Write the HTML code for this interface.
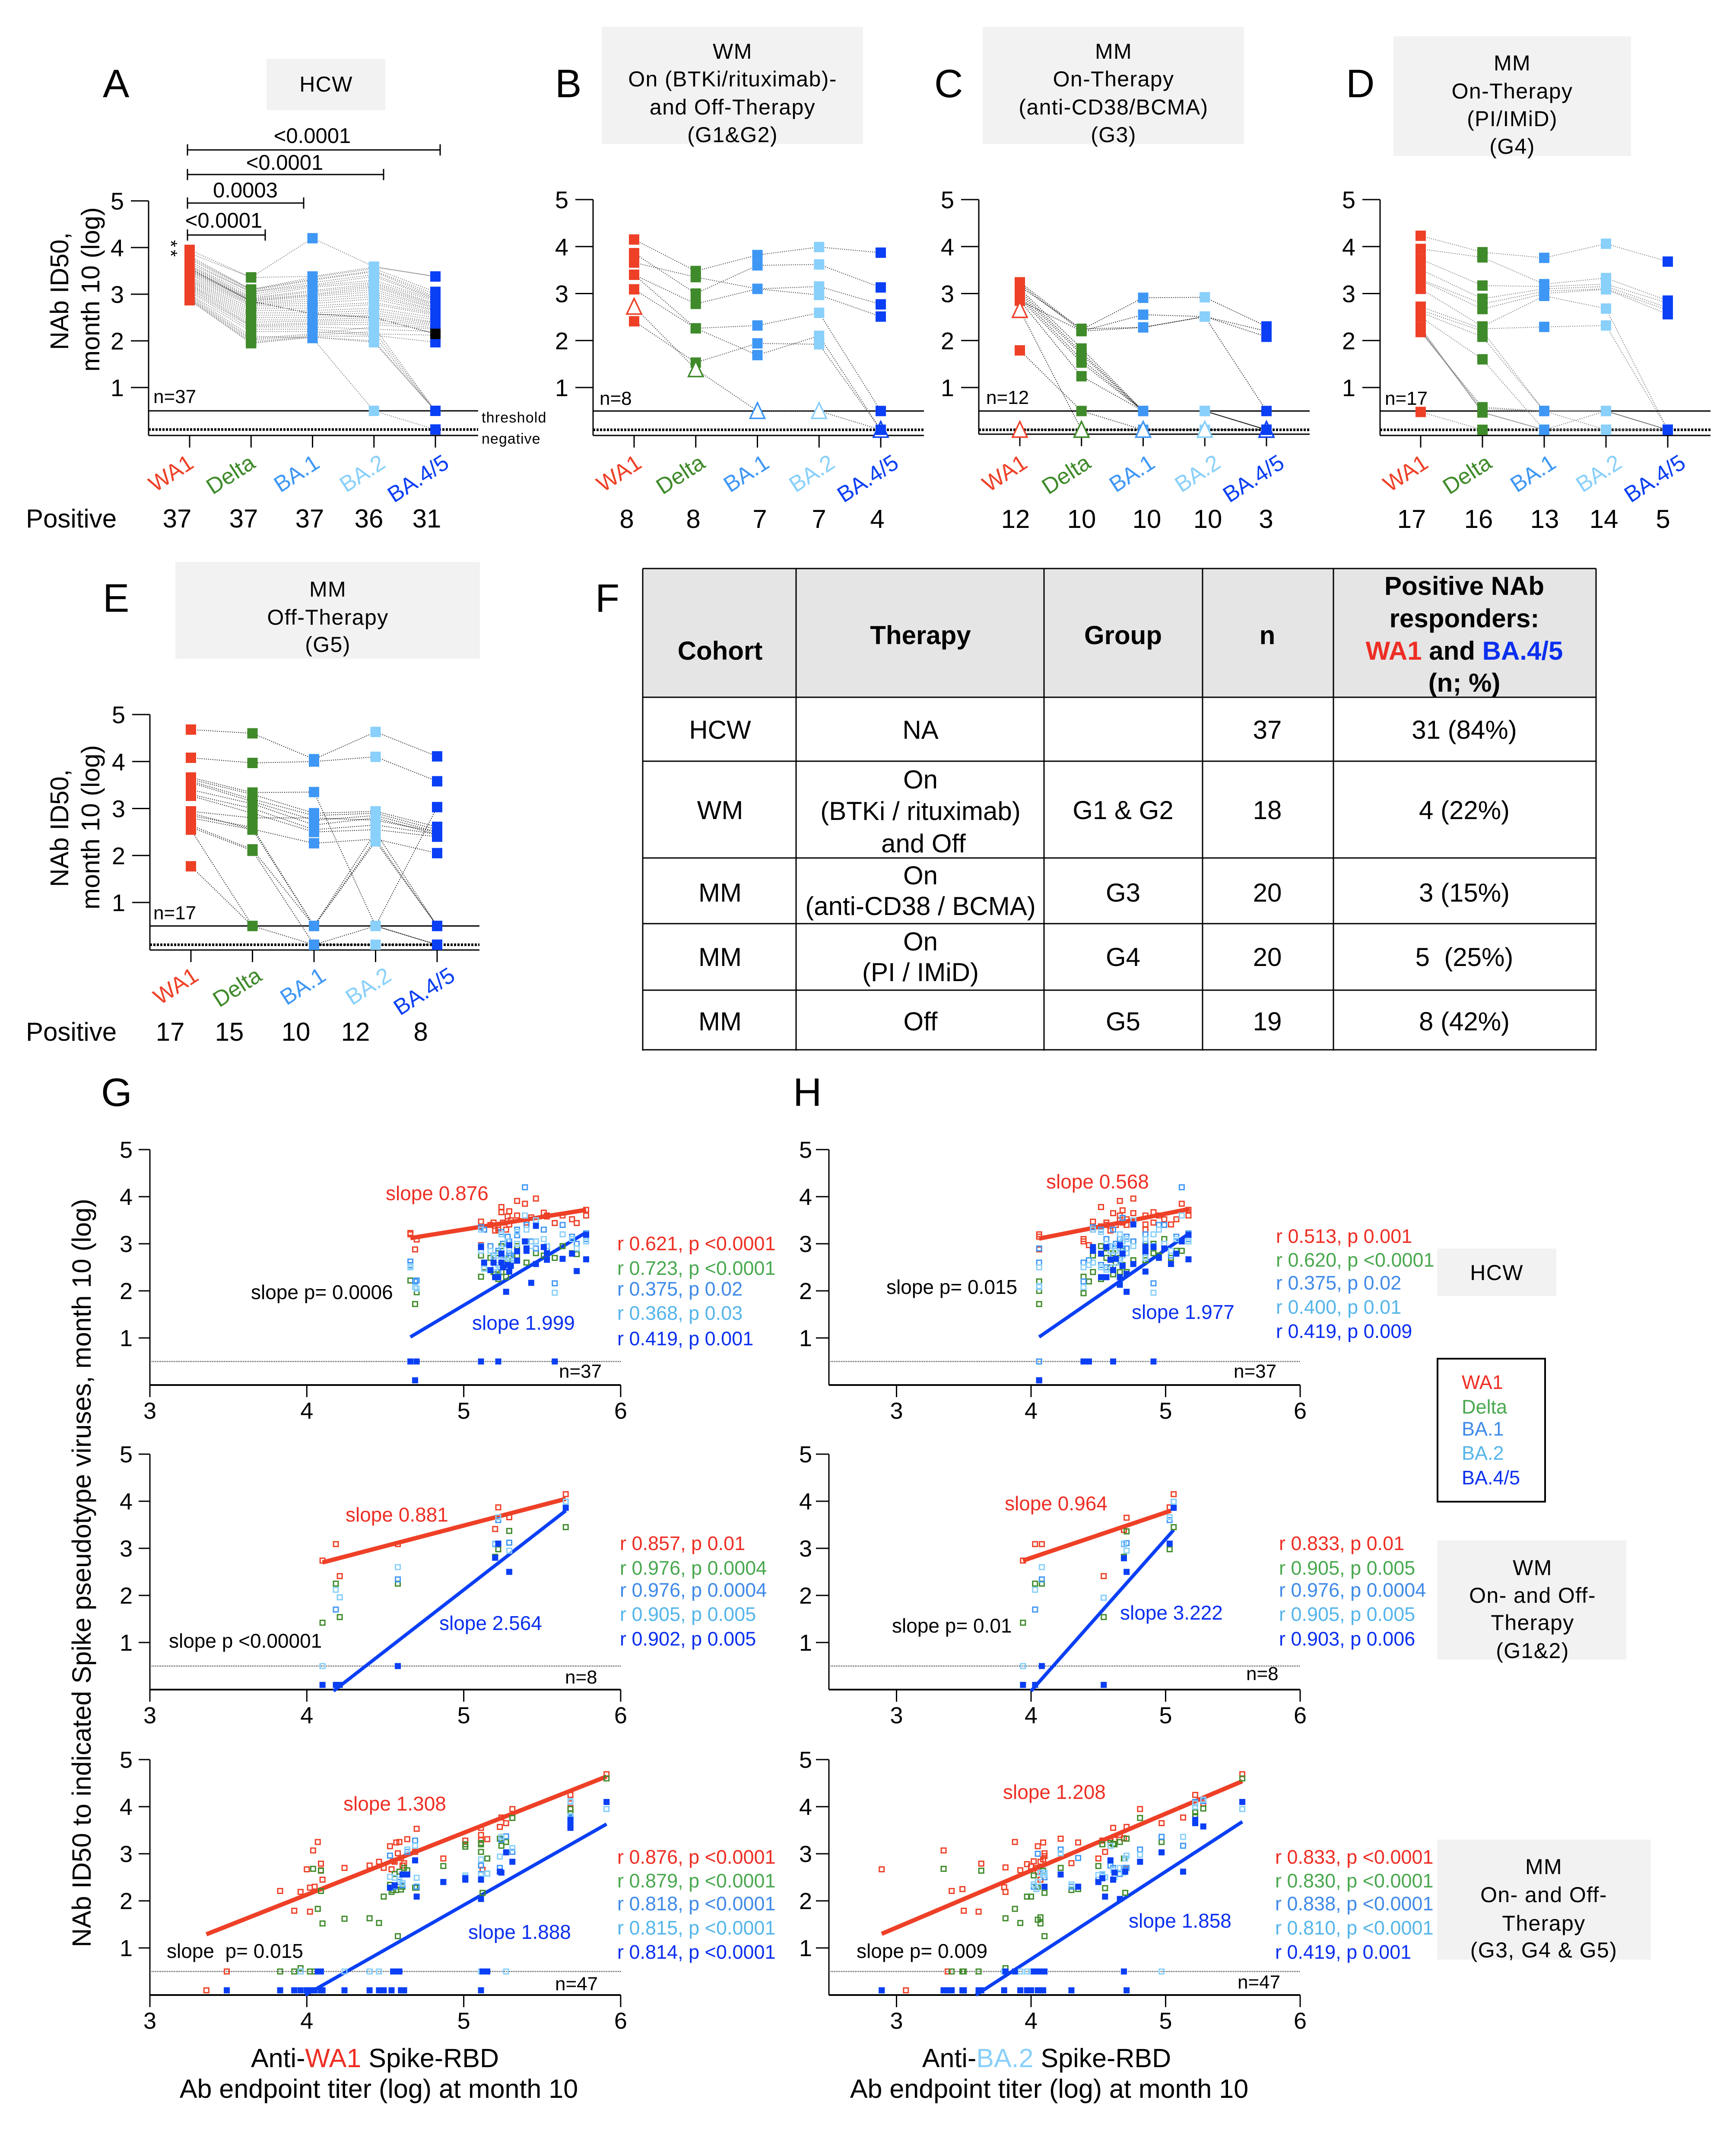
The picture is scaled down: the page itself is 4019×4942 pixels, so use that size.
<!DOCTYPE html>
<html lang="en">
<head>
<meta charset="utf-8">
<title>NAb ID50 month 10 figure</title>
<style>
html,body{margin:0;padding:0;background:#fff;}
svg{display:block;font-family:"Liberation Sans",Arial,sans-serif;}
.letter{font-size:92px;fill:#000;}
.box{fill:#f2f2f2;}
.boxtxt{font-size:50px;text-anchor:middle;letter-spacing:1.4px;fill:#000;}
.ann{font-size:46px;}
.rtxt{font-size:45px;}
.n{font-size:44px;fill:#000;}
.sig{font-size:49px;text-anchor:middle;fill:#000;}
.br{stroke:#000;stroke-width:3;fill:none;}
.ylab{font-size:59px;text-anchor:middle;fill:#000;}
.pos{font-size:60px;fill:#000;}
.th{font-size:60px;font-weight:bold;text-anchor:middle;fill:#000;}
.td{font-size:60px;text-anchor:middle;fill:#000;}
.tl{stroke:#000;stroke-width:3;}
.xlab{font-size:61px;text-anchor:middle;fill:#000;}
.red{fill:#ee2e24;}.grn{fill:#4aa84f;}.blu{fill:#3f8ae8;}.lbl{fill:#55b5ea;}.dbl{fill:#0a2ff0;}.blk{fill:#000;}
</style>
</head>
<body>
<svg id="figure" xmlns="http://www.w3.org/2000/svg" width="4019" height="4942" viewBox="0 0 4019 4942">
<rect width="4019" height="4942" fill="#fff"/>

<!-- Panel letters -->
<text class="letter" x="238" y="225">A</text>
<text class="letter" x="1285" y="225">B</text>
<text class="letter" x="2163" y="225">C</text>
<text class="letter" x="3116" y="225">D</text>
<text class="letter" x="238" y="1416">E</text>
<text class="letter" x="1378" y="1416">F</text>
<text class="letter" x="234" y="2560">G</text>
<text class="letter" x="1836" y="2560">H</text>

<!-- Header boxes -->
<g>
<rect class="box" x="617" y="136" width="275" height="119"/>
<text class="boxtxt" x="755" y="212">HCW</text>
</g>
<g>
<rect class="box" x="1393" y="62" width="605" height="271"/>
<text class="boxtxt" x="1696" y="136">WM</text>
<text class="boxtxt" x="1696" y="200">On (BTKi/rituximab)-</text>
<text class="boxtxt" x="1696" y="265">and Off-Therapy</text>
<text class="boxtxt" x="1696" y="329">(G1&amp;G2)</text>
</g>
<g>
<rect class="box" x="2275" y="62" width="605" height="271"/>
<text class="boxtxt" x="2578" y="136">MM</text>
<text class="boxtxt" x="2578" y="200">On-Therapy</text>
<text class="boxtxt" x="2578" y="265">(anti-CD38/BCMA)</text>
<text class="boxtxt" x="2578" y="329">(G3)</text>
</g>
<g>
<rect class="box" x="3226" y="84" width="550" height="277"/>
<text class="boxtxt" x="3501" y="163">MM</text>
<text class="boxtxt" x="3501" y="228">On-Therapy</text>
<text class="boxtxt" x="3501" y="292">(PI/IMiD)</text>
<text class="boxtxt" x="3501" y="356">(G4)</text>
</g>
<g>
<rect class="box" x="406" y="1301" width="705" height="224"/>
<text class="boxtxt" x="759" y="1381">MM</text>
<text class="boxtxt" x="759" y="1446">Off-Therapy</text>
<text class="boxtxt" x="759" y="1509">(G5)</text>
</g>

<!-- Panel A / E y titles and notes -->
<g>
<text class="ylab" transform="translate(158,674) rotate(-90)">NAb ID50,</text>
<text class="ylab" transform="translate(230,670) rotate(-90)">month 10 (log)</text>
</g>
<g>
<text class="ylab" transform="translate(158,1917) rotate(-90)">NAb ID50,</text>
<text class="ylab" transform="translate(230,1915) rotate(-90)">month 10 (log)</text>
</g>
<text class="pos" x="60" y="1221">Positive</text>
<text class="pos" x="60" y="2409">Positive</text>
<text x="1115" y="978" font-size="34" letter-spacing="1.2">threshold</text>
<text x="1115" y="1027" font-size="34" letter-spacing="1">negative</text>
<text class="n" x="355" y="933">n=37</text>
<text class="n" x="1388" y="937">n=8</text>
<text class="n" x="2283" y="935">n=12</text>
<text class="n" x="3206" y="937">n=17</text>
<text class="n" x="355" y="2128">n=17</text>

<!-- Significance brackets -->
<g>
<path class="br" d="M434 334V360M434 347H1019M1019 334V360"/>
<text class="sig" x="723" y="331">&lt;0.0001</text>
</g>
<g>
<path class="br" d="M434 391V417M434 404H888M888 391V417"/>
<text class="sig" x="659" y="393">&lt;0.0001</text>
</g>
<g>
<path class="br" d="M434 457V483M434 470H703M703 457V483"/>
<text class="sig" x="568" y="457">0.0003</text>
</g>
<g>
<path class="br" d="M434 531V557M434 544H614M614 531V557"/>
<text class="sig" x="518" y="527">&lt;0.0001</text>
</g>
<text transform="translate(381,578) rotate(90)" font-size="42" letter-spacing="6" text-anchor="middle">**</text>

<!-- Table F -->
<g>
<rect x="1488" y="1316" width="2207" height="298" fill="#e5e5e5"/>
<g>
<path class="tl" d="M1488 1316H3695M1488 1614H3695M1488 1762H3695M1488 1986H3695M1488 2138H3695M1488 2292H3695M1488 2430H3695"/>
<path class="tl" d="M1488 1316V2432M1843 1316V2432M2417 1316V2432M2784 1316V2432M3087 1316V2432M3695 1316V2432"/>
</g>
<g>
<text class="th" x="1667" y="1527">Cohort</text>
<text class="th" x="2131" y="1491">Therapy</text>
<text class="th" x="2600" y="1491">Group</text>
<text class="th" x="2934" y="1491">n</text>
<g>
<text class="th" x="3390" y="1377">Positive NAb</text>
<text class="th" x="3390" y="1452">responders:</text>
<text class="th" x="3390" y="1527"><tspan fill="#ee2e24">WA1</tspan> and <tspan fill="#0a2ff0">BA.4/5</tspan></text>
<text class="th" x="3390" y="1601">(n; %)</text>
</g>
</g>
<g>
<text class="td" x="1667" y="1710">HCW</text><text class="td" x="2131" y="1710">NA</text><text class="td" x="2934" y="1710">37</text><text class="td" x="3390" y="1710">31 (84%)</text>
</g>
<g>
<text class="td" x="1667" y="1896">WM</text>
<text class="td" x="2131" y="1825">On</text><text class="td" x="2131" y="1898">(BTKi / rituximab)</text><text class="td" x="2138" y="1973">and Off</text>
<text class="td" x="2600" y="1896">G1 &amp; G2</text><text class="td" x="2934" y="1896">18</text><text class="td" x="3390" y="1896">4 (22%)</text>
</g>
<g>
<text class="td" x="1667" y="2087">MM</text>
<text class="td" x="2131" y="2047">On</text><text class="td" x="2131" y="2118">(anti-CD38 / BCMA)</text>
<text class="td" x="2600" y="2087">G3</text><text class="td" x="2934" y="2087">20</text><text class="td" x="3390" y="2087">3 (15%)</text>
</g>
<g>
<text class="td" x="1667" y="2236">MM</text>
<text class="td" x="2131" y="2200">On</text><text class="td" x="2131" y="2271">(PI / IMiD)</text>
<text class="td" x="2600" y="2236">G4</text><text class="td" x="2934" y="2236">20</text><text class="td" x="3390" y="2236">5&#160; (25%)</text>
</g>
<g>
<text class="td" x="1667" y="2385">MM</text><text class="td" x="2131" y="2385">Off</text>
<text class="td" x="2600" y="2385">G5</text><text class="td" x="2934" y="2385">19</text><text class="td" x="3390" y="2385">8 (42%)</text>
</g>
</g>

<!-- Scatter annotations -->
<text transform="translate(210,3641) rotate(-90)" font-size="61" text-anchor="middle">NAb ID50 to indicated Spike pseudotype viruses, month 10 (log)</text>

<g>
<text class="ann red" x="893" y="2778">slope 0.876</text>
<text class="ann blk" x="581" y="3007">slope p= 0.0006</text>
<text class="ann dbl" x="1093" y="3078">slope 1.999</text>
<text class="rtxt red" x="1429" y="2894">r 0.621, p &lt;0.0001</text>
<text class="rtxt grn" x="1429" y="2951">r 0.723, p &lt;0.0001</text>
<text class="rtxt blu" x="1429" y="2999">r 0.375, p 0.02</text>
<text class="rtxt lbl" x="1429" y="3055">r 0.368, p 0.03</text>
<text class="rtxt dbl" x="1429" y="3114">r 0.419, p 0.001</text>
<text class="n" x="1294" y="3189">n=37</text>
</g>
<g>
<text class="ann red" x="2422" y="2751">slope 0.568</text>
<text class="ann blk" x="2052" y="2995">slope p= 0.015</text>
<text class="ann dbl" x="2620" y="3053">slope 1.977</text>
<text class="rtxt red" x="2954" y="2877">r 0.513, p 0.001</text>
<text class="rtxt grn" x="2954" y="2932">r 0.620, p &lt;0.0001</text>
<text class="rtxt blu" x="2954" y="2985">r 0.375, p 0.02</text>
<text class="rtxt lbl" x="2954" y="3041">r 0.400, p 0.01</text>
<text class="rtxt dbl" x="2954" y="3097">r 0.419, p 0.009</text>
<text class="n" x="2856" y="3189">n=37</text>
</g>
<g>
<text class="ann red" x="800" y="3522">slope 0.881</text>
<text class="ann blk" x="391" y="3814">slope p &lt;0.00001</text>
<text class="ann dbl" x="1017" y="3773">slope 2.564</text>
<text class="rtxt red" x="1435" y="3588">r 0.857, p 0.01</text>
<text class="rtxt grn" x="1435" y="3645">r 0.976, p 0.0004</text>
<text class="rtxt blu" x="1435" y="3696">r 0.976, p 0.0004</text>
<text class="rtxt lbl" x="1435" y="3752">r 0.905, p 0.005</text>
<text class="rtxt dbl" x="1435" y="3809">r 0.902, p 0.005</text>
<text class="n" x="1308" y="3897">n=8</text>
</g>
<g>
<text class="ann red" x="2326" y="3496">slope 0.964</text>
<text class="ann blk" x="2065" y="3779">slope p= 0.01</text>
<text class="ann dbl" x="2593" y="3749">slope 3.222</text>
<text class="rtxt red" x="2961" y="3588">r 0.833, p 0.01</text>
<text class="rtxt grn" x="2961" y="3645">r 0.905, p 0.005</text>
<text class="rtxt blu" x="2961" y="3696">r 0.976, p 0.0004</text>
<text class="rtxt lbl" x="2961" y="3752">r 0.905, p 0.005</text>
<text class="rtxt dbl" x="2961" y="3809">r 0.903, p 0.006</text>
<text class="n" x="2885" y="3889">n=8</text>
</g>
<g>
<text class="ann red" x="795" y="4191">slope 1.308</text>
<text class="ann blk" x="386" y="4532" xml:space="preserve">slope  p= 0.015</text>
<text class="ann dbl" x="1084" y="4488">slope 1.888</text>
<text class="rtxt red" x="1429" y="4314">r 0.876, p &lt;0.0001</text>
<text class="rtxt grn" x="1429" y="4369">r 0.879, p &lt;0.0001</text>
<text class="rtxt blu" x="1429" y="4422">r 0.818, p &lt;0.0001</text>
<text class="rtxt lbl" x="1429" y="4478">r 0.815, p &lt;0.0001</text>
<text class="rtxt dbl" x="1429" y="4534">r 0.814, p &lt;0.0001</text>
<text class="n" x="1285" y="4607">n=47</text>
</g>
<g>
<text class="ann red" x="2322" y="4164">slope 1.208</text>
<text class="ann blk" x="1983" y="4532">slope p= 0.009</text>
<text class="ann dbl" x="2613" y="4462">slope 1.858</text>
<text class="rtxt red" x="2952" y="4314">r 0.833, p &lt;0.0001</text>
<text class="rtxt grn" x="2952" y="4369">r 0.830, p &lt;0.0001</text>
<text class="rtxt blu" x="2952" y="4422">r 0.838, p &lt;0.0001</text>
<text class="rtxt lbl" x="2952" y="4478">r 0.810, p &lt;0.0001</text>
<text class="rtxt dbl" x="2952" y="4534">r 0.419, p 0.001</text>
<text class="n" x="2865" y="4603">n=47</text>
</g>

<g>
<text class="xlab" x="868" y="4785">Anti-<tspan class="red">WA1</tspan> Spike-RBD</text>
<text class="xlab" x="877" y="4856">Ab endpoint titer (log) at month 10</text>
</g>
<g>
<text class="xlab" x="2423" y="4785">Anti-<tspan fill="#89d0fb">BA.2</tspan> Spike-RBD</text>
<text class="xlab" x="2429" y="4856">Ab endpoint titer (log) at month 10</text>
</g>

<!-- Right side boxes and legend -->
<g>
<rect class="box" x="3327" y="2890" width="276" height="110"/>
<text class="boxtxt" x="3465" y="2963">HCW</text>
</g>
<g>
<rect class="box" x="3327" y="3566" width="438" height="275"/>
<text class="boxtxt" x="3548" y="3646">WM</text>
<text class="boxtxt" x="3548" y="3710">On- and Off-</text>
<text class="boxtxt" x="3548" y="3773">Therapy</text>
<text class="boxtxt" x="3548" y="3838">(G1&amp;2)</text>
</g>
<g>
<rect class="box" x="3327" y="4258" width="495" height="278"/>
<text class="boxtxt" x="3574" y="4338">MM</text>
<text class="boxtxt" x="3574" y="4403">On- and Off-</text>
<text class="boxtxt" x="3574" y="4469">Therapy</text>
<text class="boxtxt" x="3574" y="4531">(G3, G4 &amp; G5)</text>
</g>
<g>
<rect x="3328" y="3145" width="249" height="331" fill="#fff" stroke="#000" stroke-width="4"/>
<text x="3384" y="3215" font-size="45" class="red">WA1</text>
<text x="3384" y="3272" font-size="45" class="grn">Delta</text>
<text x="3384" y="3323" font-size="45" class="blu">BA.1</text>
<text x="3384" y="3379" font-size="45" class="lbl">BA.2</text>
<text x="3384" y="3436" font-size="45" class="dbl">BA.4/5</text>
</g>
</svg>

<script>
/* ---------- shared labels ---------- */
const categories = ['WA1','Delta','BA.1','BA.2','BA.4/5'];
const slopeYTicks = [1,2,3,4,5];
const scatterYTicks = [1,2,3,4,5];
const scatterXTicks = [3,4,5,6];

/* ---------- panel A-E: per-subject values over categories ---------- */
const panelAPositive = [37,37,37,36,31];
const panelBPositive = [8,8,7,7,4];
const panelCPositive = [12,10,10,10,3];
const panelDPositive = [17,16,13,14,5];
const panelEPositive = [17,15,10,12,8];

const panelASubjects = [
[3.95,3.36,4.2,3.59,3.38],[3.88,3.36,3.38,3.58,3.38],[3.82,3.1,3.36,3.55,3.05],[3.78,3.1,3.32,3.5,3.0],
[3.75,3.08,3.3,3.48,2.95],[3.7,3.05,3.25,3.42,2.92],[3.66,3.05,3.2,3.38,2.9],[3.62,3.0,3.18,3.3,2.88],
[3.6,2.95,3.15,3.25,2.85],[3.58,2.92,3.08,3.22,2.8],[3.55,2.9,3.05,3.18,2.78],[3.52,2.88,3.0,3.15,2.75],
[3.5,2.86,2.98,3.1,2.72],[3.48,2.85,2.95,3.05,2.7],[3.45,2.82,2.9,3.0,2.66],[3.42,2.8,2.85,2.95,2.64],
[3.55,2.85,2.58,2.5,2.15],[3.38,2.78,2.8,2.9,2.6],[3.35,2.75,2.75,2.82,2.58],[3.32,2.7,2.7,2.78,2.55],
[3.3,2.65,2.65,2.7,2.5],[3.28,2.6,2.6,2.65,2.45],[3.25,2.55,2.55,2.6,2.4],[3.22,2.5,2.5,2.55,2.38],
[3.2,2.45,2.45,2.5,2.35],[3.18,2.4,2.42,2.45,2.32],[3.15,2.35,2.38,2.4,2.28],[3.12,2.32,2.35,2.35,2.25],
[3.08,2.3,2.3,2.25,2.2],[3.05,2.25,2.25,2.15,2.12],[3.0,2.2,2.2,2.12,1.97],[2.98,2.1,2.06,0.5,0.1],
[2.95,2.05,2.15,2.3,0.5],[2.92,2.02,2.12,2.2,0.5],[2.9,1.98,2.1,2.1,0.5],[2.88,1.95,2.08,2.0,0.5],[2.87,1.95,2.08,1.97,0.5]];
const panelABlackSubject = 16;

const panelBSubjects = [
[4.15,3.48,3.82,3.99,3.87],[3.86,3.0,3.6,3.62,3.13],[3.66,3.35,3.1,2.97,2.51],[3.4,2.78,3.1,3.15,2.77],
[3.4,2.26,2.32,2.59,0.5],[3.09,2.26,1.69,2.1,0.1],[2.41,1.53,1.94,1.92,0.1]];
const panelBOpenSubjects = [[2.72,1.39,0.5,0.5,0.1]];

const panelCSubjects = [
[3.24,2.23,2.91,2.92,2.3],[3.2,2.2,2.55,2.51,2.2],[3.15,2.25,2.28,2.51,2.08],[3.1,1.83,0.5,0.5,0.1],
[3.05,1.75,0.5,0.5,0.1],[3.0,1.7,0.5,0.5,0.1],[2.95,1.6,0.5,0.5,0.1],[2.9,1.53,0.5,0.5,0.1],
[2.85,1.24,0.5,0.5,0.1],[2.85,2.2,2.28,2.51,0.5],[1.79,0.5,0.1,0.1,0.1]];
const panelCOpenSubjects = [[2.65,0.1,0.1,0.1,0.1],[0.1,0.1,0.1,0.1,0.1]];

const panelDSubjects = [
[4.23,3.88,3.76,4.06,3.68],[3.95,3.77,3.2,3.33,2.85],[3.73,3.17,3.15,3.2,2.8],[3.51,2.89,3.1,3.15,2.7],
[3.3,2.78,3.05,3.1,2.65],[3.28,2.67,3.0,3.09,2.56],[3.1,2.3,2.95,2.68,0.1],[2.72,2.25,2.29,2.32,0.1],
[2.65,2.2,0.5,0.5,0.1],[2.6,2.08,0.5,0.5,0.1],[2.5,1.6,0.1,0.1,0.1],[2.18,0.58,0.5,0.5,0.1],
[2.2,0.55,0.5,0.5,0.1],[2.22,0.5,0.5,0.1,0.1],[2.25,0.47,0.1,0.5,0.1],[2.28,0.47,0.1,0.1,0.1],[0.48,0.1,0.1,0.1,0.1]];

const panelESubjects = [
[4.68,4.6,4.05,4.63,4.11],[4.08,3.97,4.0,4.1,3.58],[3.66,3.34,3.35,0.5,3.03],[3.62,3.3,2.9,2.94,2.61],
[3.58,3.2,2.85,2.9,2.55],[3.55,3.15,2.75,2.85,2.5],[3.4,3.1,2.65,2.8,2.45],[3.3,3.0,2.55,2.65,2.45],
[3.27,2.9,2.5,2.55,2.4],[2.94,2.8,2.8,2.75,2.5],[2.9,2.56,2.26,2.35,2.05],[2.85,2.6,0.5,2.35,0.5],
[2.8,2.55,0.5,2.3,0.5],[2.64,2.13,0.5,2.5,0.5],[2.6,2.1,0.1,0.5,0.1],[2.55,0.5,0.5,0.5,0.1],[1.77,0.5,0.1,0.1,0.1]];

/* ---------- scatter G1 (HCW, anti-WA1) ---------- */
const g1Titer = [4.66,4.66,4.69,4.70,5.11,5.11,5.13,5.17,5.19,5.20,5.22,5.22,5.24,5.24,5.25,5.27,5.28,5.29,5.29,5.30,5.34,5.34,5.39,5.40,5.40,5.43,5.46,5.46,5.51,5.53,5.53,5.58,5.63,5.69,5.72,5.78,5.78];
const g1WA1 = [3.23,3.2,2.88,3.09,3.47,2.97,3.3,3.4,3.45,3.28,3.34,3.3,3.78,3.67,3.45,3.3,3.58,3.69,3.41,3.5,3.91,3.6,3.85,3.5,3.45,3.56,3.96,3.5,3.66,3.58,3.6,3.44,3.6,3.52,3.44,3.6,3.72];
const g1Delta = [2.22,2.5,1.72,1.97,2.75,2.3,2.5,2.7,2.4,2.35,2.25,2.8,2.95,2.4,2.55,2.3,2.65,2.8,2.7,2.6,2.95,2.75,3.05,2.9,2.6,2.95,2.8,3.05,2.75,2.95,2.7,2.7,2.95,2.8,2.78,3.1,3.05];
const g1BA1 = [2.62,2.55,2.2,2.22,3.35,2.95,3.3,2.95,2.75,2.5,2.4,2.85,3.25,2.75,3.0,2.55,3.15,3.05,2.8,2.75,3.3,3.18,4.2,3.4,2.9,3.05,3.5,2.9,3.3,2.95,2.85,2.16,3.4,3.15,3.0,3.22,3.1];
const g1BA2 = [2.52,2.5,2.08,2.05,3.3,2.85,2.47,2.85,2.7,2.5,2.55,2.75,3.2,2.9,2.7,2.5,3.05,2.9,2.65,2.6,3.25,3.0,3.6,3.3,2.85,2.95,3.5,3.05,3.1,2.8,2.95,1.96,3.2,3.1,2.9,3.05,3.15];
const g1BA45 = [0.5,0.5,0.1,0.5,0.5,2.93,2.6,2.44,2.6,2.29,0.5,2.29,2.79,2.6,2.5,1.98,2.55,2.97,2.41,2.53,2.84,2.64,3.05,2.9,2.85,2.17,3.38,2.57,2.93,2.66,2.8,0.5,2.68,2.79,2.42,2.67,3.19];
const g1FitWA1 = [[4.66,3.12],[5.78,3.72]];
const g1FitBA45 = [[4.66,1.02],[5.78,3.24]];

/* ---------- scatter H1 (HCW, anti-BA.2) ---------- */
const h1Titer = [4.06,4.06,4.06,4.39,4.39,4.43,4.46,4.46,4.52,4.52,4.56,4.56,4.59,4.61,4.61,4.63,4.66,4.66,4.66,4.68,4.68,4.71,4.71,4.76,4.76,4.85,4.85,4.85,4.91,4.91,4.95,4.99,5.04,5.08,5.12,5.17,5.17];
const h1WA1 = [2.88,3.15,3.2,3.1,3.05,2.97,3.47,3.3,3.78,3.37,3.45,3.4,3.28,3.65,3.3,3.4,3.91,3.6,3.5,3.71,3.45,3.52,3.4,3.96,3.65,3.41,3.6,3.3,3.45,3.67,3.6,3.52,3.41,3.52,3.85,3.6,3.72];
const h1Delta = [1.72,2.2,2.0,1.95,2.3,2.2,2.75,2.4,2.95,2.25,2.7,2.9,2.5,2.8,2.35,2.6,3.0,2.7,2.4,2.85,2.55,2.8,2.4,2.65,3.05,2.65,2.95,2.7,2.8,3.0,2.75,3.1,2.7,2.85,2.85,3.1,3.05];
const h1BA1 = [0.5,2.9,2.6,2.2,2.6,2.65,3.35,2.85,3.3,2.55,2.5,3.1,2.95,3.3,2.75,3.0,3.2,3.1,2.65,3.55,2.9,3.15,2.9,3.5,3.05,3.0,3.2,2.8,2.16,2.95,3.4,3.4,2.75,3.15,4.2,3.22,3.1];
const h1BA2 = [2.08,2.1,2.5,2.08,2.5,2.55,3.3,2.6,3.25,2.5,2.45,3.0,2.85,2.95,2.5,2.85,3.2,2.9,2.6,3.05,2.75,3.1,2.8,3.5,2.95,2.9,3.1,2.7,1.96,3.2,3.3,3.0,2.85,3.1,3.6,3.05,3.15];
const h1BA45 = [0.1,0.1,0.1,0.5,0.5,0.5,2.93,2.85,2.79,2.29,2.29,2.93,2.66,0.5,2.44,2.68,2.97,2.13,2.29,2.79,2.53,2.36,1.98,3.41,2.57,2.84,2.41,2.93,0.5,2.93,2.7,2.9,2.57,2.79,3.05,2.67,3.19];
const h1FitWA1 = [[4.06,3.11],[5.18,3.74]];
const h1FitBA45 = [[4.06,1.02],[5.16,3.19]];

/* ---------- scatter G2 (WM, anti-WA1) ---------- */
const g2Titer = [4.10,4.185,4.21,4.58,5.2,5.22,5.29,5.65];
const g2WA1 = [2.74,3.09,2.41,3.09,3.41,3.87,3.66,4.15];
const g2Delta = [1.42,2.25,1.54,2.25,2.82,2.98,3.37,3.45];
const g2BA1 = [0.5,1.7,1.96,2.34,3.09,3.6,3.12,3.99];
const g2BA2 = [0.5,2.12,1.96,2.6,3.1,3.66,2.95,3.99];
const g2BA45 = [0.1,0.1,0.1,0.5,2.8,3.1,2.5,3.86];
const g2FitWA1 = [[4.10,2.7],[5.65,4.05]];
const g2FitBA45 = [[4.17,-0.03],[5.65,3.8]];

/* ---------- scatter H2 (WM, anti-BA.2) ---------- */
const h2Titer = [3.94,4.03,4.08,4.54,4.69,4.71,5.03,5.06];
const h2WA1 = [2.74,3.09,3.09,2.41,3.39,3.65,3.87,4.15];
const h2Delta = [1.42,2.25,2.25,1.54,2.82,3.36,2.98,3.45];
const h2BA1 = [0.5,1.7,2.34,1.95,3.09,3.11,3.6,3.99];
const h2BA2 = [0.5,2.12,2.6,1.95,3.1,2.95,3.66,3.99];
const h2BA45 = [0.1,0.1,0.5,0.1,2.79,2.5,3.1,3.86];
const h2FitWA1 = [[3.94,2.74],[5.04,3.8]];
const h2FitBA45 = [[4.0,-0.03],[5.06,3.39]];

/* ---------- scatter G3 (MM, anti-WA1) ---------- */
const g3Titer = [3.36,3.49,3.83,3.92,3.96,4.0,4.02,4.02,4.04,4.05,4.07,4.09,4.09,4.10,4.24,4.40,4.46,4.49,4.53,4.54,4.55,4.56,4.57,4.58,4.59,4.6,4.61,4.62,4.64,4.69,4.70,4.87,5.01,5.01,5.11,5.11,5.11,5.12,5.15,5.23,5.24,5.27,5.31,5.68,5.68,5.68,5.91];
const g3WA1 = [0.1,0.5,2.21,1.79,2.19,2.67,1.77,2.28,3.07,2.3,3.25,2.79,2.65,2.45,2.7,2.75,2.83,2.7,3.16,2.67,2.85,2.83,3.24,3.01,3.25,2.91,2.75,2.8,3.31,3.04,3.53,2.9,3.28,3.2,3.55,3.4,3.29,2.66,3.31,3.57,3.77,3.65,3.95,4.25,4.07,3.95,4.69];
const g3Delta = [null,0.1,0.5,0.5,0.57,0.1,0.5,0.1,2.68,0.5,1.83,2.21,2.64,1.52,1.62,1.63,1.53,2.09,2.34,2.19,2.23,2.57,2.23,1.25,2.62,2.24,2.3,2.7,2.65,2.28,2.28,2.74,3.2,3.15,3.23,3.04,3.2,2.17,2.9,3.32,3.17,3.25,3.76,3.95,3.86,3.8,4.6];
const g3BA1 = [null,0.1,0.1,0.1,0.5,0.1,0.1,0.1,0.1,0.1,0.5,0.5,0.1,0.1,0.5,0.5,0.5,0.1,2.96,0.1,0.5,2.3,0.5,0.5,2.4,0.1,2.33,0.1,3.04,3.28,2.3,2.4,2.5,2.5,2.75,2.57,0.5,0.5,2.58,2.7,3.3,3.37,3.04,3.78,3.75,3.7,3.95];
const g3BA2 = [null,0.1,0.1,0.1,0.5,0.1,0.1,0.1,0.1,0.1,0.5,0.5,0.1,0.1,0.5,0.5,0.5,0.1,2.51,0.1,0.5,2.49,0.5,0.5,2.45,0.1,2.38,0.1,3.09,3.17,2.49,2.4,2.54,2.5,2.88,2.55,0.5,0.5,2.58,2.94,3.36,0.5,3.12,4.12,4.1,3.8,3.95];
const g3BA45 = [null,0.1,0.1,0.1,0.1,0.1,0.1,0.1,0.1,0.1,0.5,0.5,0.1,0.1,0.1,0.1,0.1,0.1,2.28,0.1,0.5,2.33,0.5,0.5,0.5,0.1,2.56,0.1,2.56,2.86,2.09,2.4,2.48,2.45,2.45,2.04,0.1,0.5,0.5,2.62,2.6,3.03,2.83,3.72,3.6,3.55,4.1];
const g3FitWA1 = [[3.36,1.29],[5.91,4.64]];
const g3FitBA45 = [[3.99,0],[5.91,3.63]];

/* ---------- scatter H3 (MM, anti-BA.2) ---------- */
const h3Titer = [2.89,3.07,3.35,3.38,3.41,3.49,3.5,3.5,3.61,3.63,3.8,3.81,3.81,3.88,3.92,3.97,4.0,4.02,4.04,4.05,4.05,4.07,4.07,4.09,4.09,4.1,4.1,4.22,4.3,4.35,4.5,4.53,4.55,4.59,4.61,4.62,4.66,4.69,4.7,4.71,4.81,4.97,5.13,5.22,5.22,5.28,5.57];
const h3WA1 = [2.67,0.1,3.07,0.5,2.21,2.25,1.79,0.1,1.77,2.79,2.29,2.19,2.71,3.25,2.65,2.78,2.73,2.84,2.7,3.16,2.62,2.83,2.45,3.24,2.88,3.01,2.95,3.32,2.8,3.24,2.9,3.28,3.04,3.29,3.55,3.3,3.4,3.33,2.67,3.57,3.95,3.65,3.77,4.25,4.1,4.07,4.69];
const h3Delta = [0.1,null,2.68,0.1,0.5,0.5,0.5,0.1,0.5,2.64,0.5,0.57,1.63,1.83,1.53,2.09,2.09,2.54,2.3,2.3,1.6,1.65,1.52,2.64,2.6,1.25,2.17,2.7,2.23,2.25,2.74,3.2,2.27,3.23,3.21,3.2,3.25,2.9,2.17,3.32,3.76,3.25,3.17,3.88,3.8,3.96,4.6];
const h3BA1 = [0.1,null,0.1,0.1,0.1,0.1,0.1,0.1,0.1,0.1,0.5,0.5,0.5,0.5,0.5,0.5,0.5,2.3,2.25,3.0,0.5,2.6,0.5,2.6,0.5,2.5,2.55,3.09,2.3,2.91,2.45,2.54,2.5,2.75,2.7,2.55,2.57,2.7,2.65,2.7,3.09,3.36,3.17,4.1,3.7,4.12,3.95];
const h3BA2 = [0.1,null,0.1,0.1,0.1,0.1,0.1,0.1,0.1,0.1,0.5,0.5,0.5,0.5,0.5,0.5,0.5,2.35,2.25,2.4,0.5,2.6,0.5,2.55,0.5,2.55,2.6,3.01,2.35,2.3,2.55,2.57,2.5,3.17,2.65,2.5,2.7,2.6,2.9,2.96,2.98,0.5,3.36,4.07,4.0,4.15,3.95];
const h3BA45 = [0.1,null,0.1,0.1,0.1,0.1,0.1,0.1,0.1,0.1,0.1,0.5,0.5,0.5,0.1,0.1,0.1,0.5,0.5,0.5,0.1,0.5,0.1,0.5,0.1,0.5,2.3,2.56,0.1,2.3,2.4,2.48,2.09,2.86,2.45,2.6,2.04,0.5,2.62,0.1,2.83,3.03,2.62,3.72,3.65,3.58,4.1];
const h3FitWA1 = [[2.89,1.3],[5.57,4.54]];
const h3FitBA45 = [[3.59,0],[5.57,3.68]];

/* ---------- rendering ---------- */
const NS = 'http://www.w3.org/2000/svg';
const figure = document.getElementById('figure');
const markerColors = ['#ee4027','#3f8a2a','#3f97f5','#89d0fb','#0a3ff5'];

function add(parent, tag, attrs, name, text) {
  const el = document.createElementNS(NS, tag);
  for (const k in attrs) el.setAttribute(k, attrs[k]);
  
  
  if (text !== undefined) el.textContent = text;
  parent.appendChild(el);
  return el;
}

function drawSlopePanel(p) {
  const g = add(figure, 'g', {}, p.name);
  const y = v => p.y5 + (5 - v) * p.unit;
  const x = i => p.x0 + i * p.dx;
  add(g, 'line', {x1:p.axisX, x2:p.axisX, y1:y(5), y2:p.bottom, stroke:'#000', 'stroke-width':3}, p.name + '-y-axis');
  add(g, 'line', {x1:p.axisX, x2:p.xEnd, y1:p.bottom, y2:p.bottom, stroke:'#000', 'stroke-width':3}, p.name + '-x-axis');
  add(g, 'line', {x1:p.axisX, x2:p.xEnd, y1:y(0.5), y2:y(0.5), stroke:'#000', 'stroke-width':3}, p.name + '-threshold-line');
  add(g, 'line', {x1:p.axisX, x2:p.xEnd, y1:y(0.1), y2:y(0.1), stroke:'#000', 'stroke-width':6, 'stroke-dasharray':'5 3'}, p.name + '-negative-line');
  slopeYTicks.forEach(t => {
    add(g, 'line', {x1:p.axisX - 41, x2:p.axisX, y1:y(t), y2:y(t), stroke:'#000', 'stroke-width':3}, p.name + '-y-tick');
    add(g, 'text', {x:p.axisX - 57, y:y(t) + 20, 'font-size':56, 'text-anchor':'end'}, p.name + '-y-tick-label', t);
  });
  categories.forEach((c, i) => {
    add(g, 'line', {x1:x(i), x2:x(i), y1:p.bottom, y2:p.bottom + 28, stroke:'#000', 'stroke-width':3}, p.name + '-x-tick');
    const lx = x(i) + p.labelDx[i];
    add(g, 'text', {x:lx, y:p.labelY, 'font-size':52, 'text-anchor':'end', fill:markerColors[i],
      transform:'rotate(-33 ' + lx + ' ' + p.labelY + ')'}, p.name + '-category-label', c);
    add(g, 'text', {x:p.positiveX[i], y:p.positiveY, 'font-size':60, 'text-anchor':'middle'}, p.name + '-positive-count', p.positive[i]);
  });
  const all = p.subjects.concat(p.open || []);
  all.forEach((row, r) => {
    const pts = row.map((v, i) => x(i) + ',' + y(v)).join(' ');
    add(g, 'polyline', {points:pts, fill:'none', stroke:r === p.black ? '#000' : p.lineColor, 'stroke-width':2, 'stroke-dasharray':'2 3'}, p.name + '-subject-line');
  });
  function tri(row, i) {
    const cx = x(i), cy = y(row[i]);
    add(g, 'polygon', {points:(cx-17)+','+(cy+17)+' '+(cx+17)+','+(cy+17)+' '+cx+','+(cy-19),
      fill:'#fff', stroke:markerColors[i], 'stroke-width':3.5}, p.name + '-open-marker');
  }
  categories.forEach((c, i) => {
    if (i === 4) (p.open || []).forEach(row => tri(row, i));
    p.subjects.forEach((row, r) => {
      const fill = (r === p.black && i === 4) ? null : markerColors[i];
      if (fill) add(g, 'rect', {x:x(i) - 12, y:y(row[i]) - 12, width:24, height:24, fill:fill}, p.name + '-marker');
    });
    if (p.black !== undefined && i === 4) {
      const row = p.subjects[p.black];
      add(g, 'rect', {x:x(i) - 12, y:y(row[i]) - 12, width:24, height:24, fill:'#000'}, p.name + '-highlight-marker');
    }
    if (i !== 4) (p.open || []).forEach(row => tri(row, i));
  });
}

const sharedOffsets = [21,25,31,40,45];
drawSlopePanel({name:'panel-a', y5:465, unit:108, bottom:1008, axisX:344, xEnd:1107, x0:439, dx:142.25,
  labelDx:[13,13,20,30,35], labelY:1080, positive:panelAPositive, positiveX:[410,564,717,854,988], positiveY:1221,
  subjects:panelASubjects, black:panelABlackSubject, lineColor:'#808080'});
drawSlopePanel({name:'panel-b', y5:462, unit:108.75, bottom:1008, axisX:1373, xEnd:2139, x0:1468, dx:142.75,
  labelDx:sharedOffsets, labelY:1080, positive:panelBPositive, positiveX:[1451,1605,1759,1896,2031], positiveY:1222,
  subjects:panelBSubjects, open:panelBOpenSubjects, lineColor:'#444'});
drawSlopePanel({name:'panel-c', y5:462, unit:108.75, bottom:1005, axisX:2266, xEnd:3032, x0:2361, dx:142.75,
  labelDx:sharedOffsets, labelY:1080, positive:panelCPositive, positiveX:[2351,2504,2655,2796,2931], positiveY:1222,
  subjects:panelCSubjects, open:panelCOpenSubjects, lineColor:'#222'});
drawSlopePanel({name:'panel-d', y5:462, unit:108.75, bottom:1008, axisX:3195, xEnd:3960, x0:3289, dx:143,
  labelDx:sharedOffsets, labelY:1080, positive:panelDPositive, positiveX:[3268,3423,3576,3713,3850], positiveY:1222,
  subjects:panelDSubjects, lineColor:'#808080'});
drawSlopePanel({name:'panel-e', y5:1654, unit:108.75, bottom:2199, axisX:347, xEnd:1110, x0:442, dx:142.5,
  labelDx:sharedOffsets, labelY:2267, positive:panelEPositive, positiveX:[394,531,685,823,974], positiveY:2409,
  subjects:panelESubjects, lineColor:'#222'});

function drawScatter(s) {
  const g = add(figure, 'g', {}, s.name);
  const y = v => s.y5 + (5 - v) * 109;
  const x = v => s.x3 + (v - 3) * s.xUnit;
  const bottom = y(0);
  add(g, 'line', {x1:s.axisX, x2:s.axisX, y1:y(5), y2:bottom, stroke:'#000', 'stroke-width':3}, s.name + '-y-axis');
  add(g, 'line', {x1:s.axisX, x2:s.xEnd, y1:bottom, y2:bottom, stroke:'#000', 'stroke-width':4}, s.name + '-x-axis');
  add(g, 'line', {x1:s.axisX, x2:s.xEnd, y1:y(0.5), y2:y(0.5), stroke:'#444', 'stroke-width':2.5, 'stroke-dasharray':'2 2'}, s.name + '-threshold-line');
  scatterYTicks.forEach(t => {
    add(g, 'line', {x1:s.axisX - s.tickLen, x2:s.axisX, y1:y(t), y2:y(t), stroke:'#000', 'stroke-width':3}, s.name + '-y-tick');
    add(g, 'text', {x:s.labelRight, y:y(t) + 19, 'font-size':54, 'text-anchor':'end'}, s.name + '-y-tick-label', t);
  });
  scatterXTicks.forEach(t => {
    add(g, 'line', {x1:x(t), x2:x(t), y1:bottom, y2:bottom + 28, stroke:'#000', 'stroke-width':3}, s.name + '-x-tick');
    add(g, 'text', {x:x(t), y:bottom + 78, 'font-size':54, 'text-anchor':'middle'}, s.name + '-x-tick-label', t);
  });
  add(g, 'line', {x1:x(s.fitWA1[0][0]), y1:y(s.fitWA1[0][1]), x2:x(s.fitWA1[1][0]), y2:y(s.fitWA1[1][1]), stroke:markerColors[0], 'stroke-width':10}, s.name + '-fit-wa1');
  add(g, 'line', {x1:x(s.fitBA45[0][0]), y1:y(s.fitBA45[0][1]), x2:x(s.fitBA45[1][0]), y2:y(s.fitBA45[1][1]), stroke:markerColors[4], 'stroke-width':8}, s.name + '-fit-ba45');
  s.series.forEach((vals, k) => {
    vals.forEach((v, i) => {
      if (v === null || v === undefined) return;
      const px = x(s.titer[i]), py = y(v);
      if (k === 4) {
        add(g, 'rect', {x:px - 7, y:py - 7, width:14, height:14, fill:markerColors[k]}, s.name + '-point-ba45');
      } else {
        add(g, 'rect', {x:px - 5.5, y:py - 5.5, width:11, height:11, fill:'none', stroke:markerColors[k], 'stroke-width':3}, s.name + '-point-' + categories[k].toLowerCase().replace('.', ''));
      }
    });
  });
}

const gLayout = {x3:347, xUnit:363.3, axisX:347, xEnd:1437, tickLen:26, labelRight:307};
const hLayout = {x3:2075.5, xUnit:311.5, axisX:1919, xEnd:3010, tickLen:30, labelRight:1880};
drawScatter(Object.assign({name:'scatter-g1', y5:2661, titer:g1Titer, series:[g1WA1,g1Delta,g1BA1,g1BA2,g1BA45], fitWA1:g1FitWA1, fitBA45:g1FitBA45}, gLayout));
drawScatter(Object.assign({name:'scatter-h1', y5:2661, titer:h1Titer, series:[h1WA1,h1Delta,h1BA1,h1BA2,h1BA45], fitWA1:h1FitWA1, fitBA45:h1FitBA45}, hLayout));
drawScatter(Object.assign({name:'scatter-g2', y5:3366, titer:g2Titer, series:[g2WA1,g2Delta,g2BA1,g2BA2,g2BA45], fitWA1:g2FitWA1, fitBA45:g2FitBA45}, gLayout));
drawScatter(Object.assign({name:'scatter-h2', y5:3366, titer:h2Titer, series:[h2WA1,h2Delta,h2BA1,h2BA2,h2BA45], fitWA1:h2FitWA1, fitBA45:h2FitBA45}, hLayout));
drawScatter(Object.assign({name:'scatter-g3', y5:4073, titer:g3Titer, series:[g3WA1,g3Delta,g3BA1,g3BA2,g3BA45], fitWA1:g3FitWA1, fitBA45:g3FitBA45}, gLayout));
drawScatter(Object.assign({name:'scatter-h3', y5:4073, titer:h3Titer, series:[h3WA1,h3Delta,h3BA1,h3BA2,h3BA45], fitWA1:h3FitWA1, fitBA45:h3FitBA45}, hLayout));
</script>
</body>
</html>
